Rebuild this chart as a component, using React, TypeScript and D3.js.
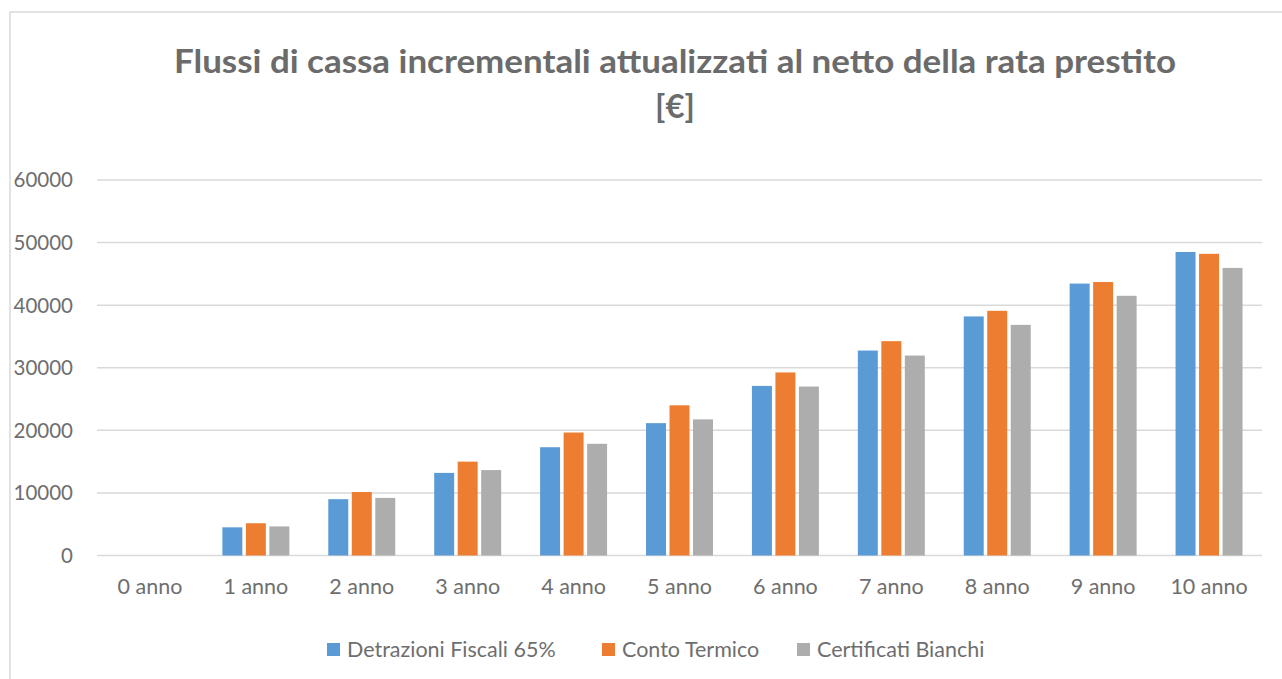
import React from 'react';
import * as d3 from 'd3';

// --- Data ---
const categories = ['0 anno', '1 anno', '2 anno', '3 anno', '4 anno', '5 anno', '6 anno', '7 anno', '8 anno', '9 anno', '10 anno'];
const seriesNames = ['Detrazioni Fiscali 65%', 'Conto Termico', 'Certificati Bianchi'];
const detrazioni = [0, 4500, 9000, 13200, 17300, 21150, 27100, 32750, 38200, 43450, 48500];
const contoTermico = [0, 5150, 10150, 15000, 19650, 24000, 29250, 34250, 39100, 43700, 48200];
const certificati = [0, 4650, 9200, 13650, 17850, 21750, 27000, 31950, 36850, 41500, 45950];
const yTicks = [0, 10000, 20000, 30000, 40000, 50000, 60000];
const colors = ['#5B9BD5', '#ED7D31', '#ADADAD'];

const W = 1282;
const H = 679;
const plot = { left: 97, right: 1262, top: 180, bottom: 555.5 };
const legendX = [327, 602, 797];
const font = 'Lato, "Open Sans", sans-serif';

export default function App() {
    const series = [detrazioni, contoTermico, certificati];

    const x = d3.scaleBand<string>().domain(categories).range([plot.left, plot.right]).padding(0);
    const groupW = 70.5;
    const xs = d3.scaleBand<number>().domain([0, 1, 2]).range([-groupW / 2, groupW / 2]).paddingInner(0.15).paddingOuter(0.075);
    const y = d3.scaleLinear().domain([0, 60000]).range([plot.bottom, plot.top]);

    return (
        <>
            <style>{`body { margin: 0; }`}</style>
            <svg width={W} height={H} style={{ display: 'block', background: '#fff' }}>
                <rect x={10} y={12} width={1300} height={720} fill="#fff" stroke="#D9D9D9" strokeWidth={1.5} />

                {/* title */}
                <text x={675} y={73} textAnchor="middle" fill="#6B6B6B" fontFamily={font} fontWeight={700} fontSize={33}
                      textLength={1002} lengthAdjust="spacingAndGlyphs">
                    Flussi di cassa incrementali attualizzati al netto della rata prestito
                </text>
                <text x={675} y={118} textAnchor="middle" fill="#6B6B6B" fontFamily={font} fontWeight={700} fontSize={33}>
                    [€]
                </text>

                {/* grid + y labels */}
                {yTicks.map(t => (
                    <g key={t}>
                        <line x1={plot.left} x2={plot.right} y1={y(t)} y2={y(t)} stroke="#D9D9D9" strokeWidth={1.5} />
                        <text x={73} y={y(t)} dy="0.36em" textAnchor="end" fill="#6E6E6E" fontFamily={font} fontSize={20.5}>
                            {t}
                        </text>
                    </g>
                ))}

                {/* bars */}
                {series.map((vals, si) => (
                    <g key={si} fill={colors[si]}>
                        {vals.map((v, i) => {
                            const cx = (x(categories[i]) as number) + x.bandwidth() / 2;
                            return (
                                <rect key={i} x={cx + (xs(si) as number)} y={y(v)} width={xs.bandwidth()} height={y(0) - y(v)} />
                            );
                        })}
                    </g>
                ))}

                {/* x labels */}
                {categories.map(c => (
                    <text key={c} x={(x(c) as number) + x.bandwidth() / 2} y={594} textAnchor="middle" fill="#6E6E6E"
                          fontFamily={font} fontSize={21.5}>
                        {c}
                    </text>
                ))}

                {/* legend */}
                {seriesNames.map((name, i) => (
                    <g key={name} transform={`translate(${legendX[i]},643)`}>
                        <rect x={0} y={0} width={13} height={13} fill={colors[i]} />
                        <text x={20} y={13.5} fill="#6E6E6E" fontFamily={font} fontSize={21.5}>{name}</text>
                    </g>
                ))}
            </svg>
        </>
    );
}
